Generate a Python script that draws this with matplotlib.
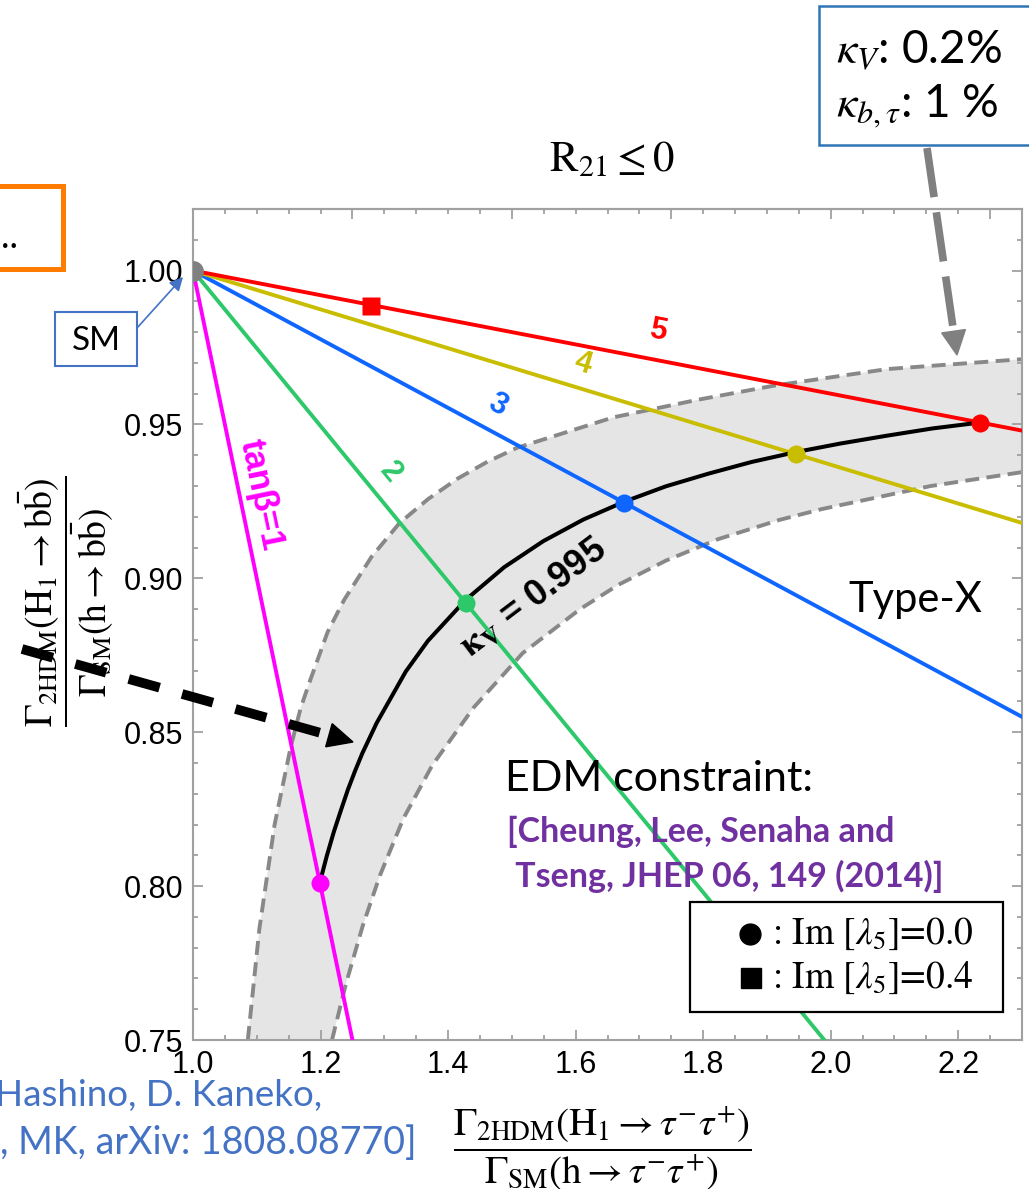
import numpy as np
import matplotlib
matplotlib.use("Agg")
import matplotlib.pyplot as plt
from matplotlib.patches import Rectangle, Polygon, FancyArrowPatch
from matplotlib.lines import Line2D
from matplotlib.ticker import MultipleLocator, FormatStrFormatter

plt.rcParams['font.family'] = ['Liberation Sans', 'DejaVu Sans']
plt.rcParams['mathtext.fontset'] = 'stix'

# fixed tan(beta) lines, all leaving the SM point (1, 1)
tanb_labels = ['tan\u03b2=1', '2', '3', '4', '5']
label_sizes = [25, 22, 22, 22, 22]
line_colors = ['#ff00ff', '#2dc86a', '#0f66ff', '#c9bd00', '#ff0000']
line_end_x = [1.25, 1.99, 2.30, 2.30, 2.30]
line_end_y = [0.75, 0.75, 0.855, 0.918, 0.948]
label_x = [1.107, 1.309, 1.477, 1.612, 1.729]
label_y = [0.9270, 0.9344, 0.9562, 0.9698, 0.9805]

# crossings with kappa_V = 0.995 (Im[lambda5] = 0)
dot_x = [1.1988, 1.4276, 1.6763, 1.9449, 2.2335]
dot_y = [0.8011, 0.8920, 0.9246, 0.9404, 0.9506]
# Im[lambda5] = 0.4 point on tan(beta) = 5
sq_x = [1.279]
sq_y = [0.9886]

# kappa_V = 0.995 curve
kv_x = [1.1988, 1.2098, 1.2208, 1.2319, 1.2430, 1.2541, 1.2654, 1.2880, 1.3126,
        1.3336, 1.3684, 1.4276, 1.4879, 1.5494, 1.6121, 1.6763, 1.7416, 1.8081,
        1.8758, 1.9449, 2.0153, 2.0868, 2.1596, 2.2335]
kv_y = [0.8011, 0.8098, 0.8176, 0.8246, 0.8314, 0.8374, 0.8431, 0.8530, 0.8620,
        0.8697, 0.8797, 0.8930, 0.9036, 0.9121, 0.9191, 0.9249, 0.9299, 0.9340,
        0.9378, 0.9410, 0.9438, 0.9463, 0.9487, 0.9506]

# EDM-allowed band (upper-left and lower-right edges)
up_x = [1.086, 1.104, 1.128, 1.153, 1.169, 1.184, 1.211, 1.237, 1.280, 1.324,
        1.369, 1.415, 1.461, 1.508, 1.659, 1.791, 1.911, 2.089, 2.300]
up_y = [0.750, 0.786, 0.820, 0.845, 0.858, 0.867, 0.8825, 0.893, 0.907, 0.918,
        0.9258, 0.9324, 0.9378, 0.9424, 0.9523, 0.958, 0.9626, 0.968, 0.9712]
lo_x = [1.218, 1.240, 1.266, 1.293, 1.330, 1.375, 1.440, 1.517, 1.607, 1.667,
        1.742, 1.823, 1.920, 1.986, 2.157, 2.300]
lo_y = [0.750, 0.7684, 0.787, 0.8034, 0.822, 0.8392, 0.858, 0.8757, 0.890,
        0.8979, 0.9058, 0.9127, 0.919, 0.9225, 0.930, 0.9345]

W, H = 1029, 1189
fig = plt.figure(figsize=(W / 100, H / 100), dpi=100)


def fx(px):
    return px / W


def fy(py):
    return 1 - py / H


ax = fig.add_axes([fx(193), fy(1040), (1022 - 193) / W, (1040 - 209) / H])
ax.set_xlim(1.0, 2.3)
ax.set_ylim(0.75, 1.02)

# band
ax.fill(np.concatenate([up_x, lo_x[::-1]]), np.concatenate([up_y, lo_y[::-1]]),
        color='#e5e5e5', lw=0, zorder=1)
ax.plot(up_x, up_y, color='#888888', lw=2.8, ls=(0, (3.6, 1.9)), zorder=2)
ax.plot(lo_x, lo_y, color='#888888', lw=2.8, ls=(0, (3.6, 1.9)), zorder=2)

# tan(beta) lines and their labels
for i in range(len(tanb_labels)):
    ax.plot([1.0, line_end_x[i]], [1.0, line_end_y[i]], color=line_colors[i],
            lw=2.8, zorder=3)
    p0 = ax.transData.transform((1.0, 1.0))
    p1 = ax.transData.transform((line_end_x[i], line_end_y[i]))
    ang = np.degrees(np.arctan2(p1[1] - p0[1], p1[0] - p0[0]))
    ax.text(label_x[i], label_y[i], tanb_labels[i], color=line_colors[i],
            fontsize=label_sizes[i], fontweight='bold', rotation=ang,
            ha='center', va='center', rotation_mode='anchor', zorder=6)

ax.plot(kv_x, kv_y, color='black', lw=2.9, zorder=4)
ax.text(1.532, 0.8938, r'$\mathbf{\kappa_V}$ = 0.995', fontsize=26,
        fontweight='bold', rotation=37, ha='center', va='center',
        rotation_mode='anchor', zorder=6)

for i in range(len(dot_x)):
    ax.plot(dot_x[i], dot_y[i], 'o', color=line_colors[i], ms=13, mec='none',
            zorder=5)
ax.plot(sq_x, sq_y, 's', color='#ff0000', ms=13, mec='none', zorder=5)
ax.plot([1.0], [1.0], 'o', color='#808080', ms=15, mec='none', zorder=5)

# frame
for s in ax.spines.values():
    s.set_color('#a0a0a0')
    s.set_linewidth(1.5)
ax.xaxis.set_major_locator(MultipleLocator(0.2))
ax.xaxis.set_minor_locator(MultipleLocator(0.05))
ax.yaxis.set_major_locator(MultipleLocator(0.05))
ax.yaxis.set_minor_locator(MultipleLocator(0.01))
ax.xaxis.set_major_formatter(FormatStrFormatter('%.1f'))
ax.yaxis.set_major_formatter(FormatStrFormatter('%.2f'))
ax.tick_params(which='both', direction='in', color='#a0a0a0', width=1.3,
               top=False, right=True, labelsize=22, pad=7)
ax.tick_params(which='major', length=7)
ax.tick_params(which='minor', length=3.6)
top = ax.secondary_xaxis('top')
top.xaxis.set_major_locator(MultipleLocator(0.25))
top.xaxis.set_minor_locator(MultipleLocator(0.05))
top.tick_params(which='both', direction='in', color='#a0a0a0', width=1.3,
                labeltop=False)
top.tick_params(which='major', length=7)
top.tick_params(which='minor', length=3.6)
top.spines['top'].set_color('#a0a0a0')
top.spines['top'].set_linewidth(1.5)

# axis titles
fig.text(fx(66), fy(601),
         r'$\dfrac{\Gamma_{\mathrm{2HDM}}(\mathrm{H}_1 \rightarrow \mathrm{b}\bar{\mathrm{b}})}'
         r'{\Gamma_{\mathrm{SM}}(\mathrm{h} \rightarrow \mathrm{b}\bar{\mathrm{b}})}$',
         fontsize=27, rotation=90, ha='center', va='center')
fig.text(fx(602), fy(1148),
         r'$\dfrac{\Gamma_{\mathrm{2HDM}}(\mathrm{H}_1 \rightarrow \tau^{-}\tau^{+})}'
         r'{\Gamma_{\mathrm{SM}}(\mathrm{h} \rightarrow \tau^{-}\tau^{+})}$',
         fontsize=28, ha='center', va='center')
fig.text(fx(612), fy(160), r'$\mathrm{R}_{21} \leq 0$', fontsize=31,
         ha='center', va='center')

# annotations
fig.text(fx(915), fy(600), 'Type-X', family='Lato', fontsize=30,
         ha='center', va='center')
fig.text(fx(505), fy(779), 'EDM constraint:', family='Lato', fontsize=31,
         ha='left', va='center')
fig.text(fx(507), fy(832), '[Cheung, Lee, Senaha and', family='Lato',
         fontweight='bold', fontsize=24.5, color='#7030a0', ha='left',
         va='center')
fig.text(fx(507), fy(876), ' Tseng, JHEP 06, 149 (2014)]', family='Lato',
         fontweight='bold', fontsize=24.5, color='#7030a0', ha='left',
         va='center')

# marker key
fig.add_artist(Rectangle((fx(690), fy(1012)), (1003 - 690) / W, (1012 - 902) / H,
                         transform=fig.transFigure, facecolor='white',
                         edgecolor='black', lw=1.6, zorder=10))
fig.add_artist(Line2D([fx(750)], [fy(934)], marker='o', ms=15, color='black',
                      transform=fig.transFigure, zorder=11))
fig.add_artist(Line2D([fx(751)], [fy(978)], marker='s', ms=14, color='black',
                      transform=fig.transFigure, zorder=11))
fig.text(fx(772), fy(934), r': Im $[\lambda_5]$=0.0', family='STIXGeneral',
         fontsize=27, ha='left', va='center', zorder=12)
fig.text(fx(772), fy(978), r': Im $[\lambda_5]$=0.4', family='STIXGeneral',
         fontsize=27, ha='left', va='center', zorder=12)

# SM call-out
fig.add_artist(Rectangle((fx(55), fy(366)), (137 - 55) / W, (366 - 312) / H,
                         transform=fig.transFigure, facecolor='white',
                         edgecolor='#4472c4', lw=1.5, zorder=10))
fig.text(fx(96), fy(341), 'SM', family='Lato', fontsize=24, ha='center',
         va='center', zorder=11)
fig.add_artist(FancyArrowPatch((fx(137), fy(328)), (fx(183), fy(277)),
                               transform=fig.transFigure, arrowstyle='-|>',
                               mutation_scale=20, lw=1.2, color='#4472c4',
                               shrinkA=0, shrinkB=0, zorder=11))

# precision box
fig.add_artist(Rectangle((fx(819), fy(145)), (1060 - 819) / W, (145 - 6) / H,
                         transform=fig.transFigure, facecolor='white',
                         edgecolor='#2e75b6', lw=1.8, zorder=10))
fig.text(fx(836), fy(50), r'$\kappa_V$: 0.2%', family='Lato', fontsize=33,
         ha='left', va='center', zorder=11)
fig.text(fx(836), fy(106), r'$\kappa_{b,\tau}$: 1 %', family='Lato',
         fontsize=33, ha='left', va='center', zorder=11)

# orange box on the left
fig.add_artist(Rectangle((fx(-40), fy(269)), (63 + 40) / W, (269 - 186) / H,
                         transform=fig.transFigure, facecolor='white',
                         edgecolor='#ff7c00', lw=3.6, zorder=10))
fig.text(fx(1), fy(238), '..', family='Lato', fontsize=26, ha='left',
         va='center', zorder=11)

# reference in blue
fig.text(fx(322), fy(1106), 'Hashino, D. Kaneko,', family='Lato', fontsize=26.5,
         color='#4472c4', ha='right', va='baseline')
fig.text(fx(417), fy(1154), ', MK, arXiv: 1808.08770]', family='Lato',
         fontsize=27, color='#4472c4', ha='right', va='baseline')


def dashed_arrow(x0, y0, x1, y1, color, lw, dash, head_len, head_w):
    d = np.hypot(x1 - x0, y1 - y0)
    ux, uy = (x1 - x0) / d, (y1 - y0) / d
    bx, by = x1 - ux * head_len, y1 - uy * head_len
    fig.add_artist(Line2D([fx(x0), fx(bx)], [fy(y0), fy(by)],
                          transform=fig.transFigure, color=color, lw=lw,
                          ls=(0, dash), dash_capstyle='butt', zorder=9))
    nx, ny = -uy, ux
    tri = [(x1, y1), (bx + nx * head_w / 2, by + ny * head_w / 2),
           (bx - nx * head_w / 2, by - ny * head_w / 2)]
    fig.add_artist(Polygon([(fx(a), fy(b)) for a, b in tri], closed=True,
                           transform=fig.transFigure, color=color, zorder=9))


dashed_arrow(22, 649, 353, 742, 'black', 7, (3.3, 2.4), 25, 24)
dashed_arrow(927, 148, 957, 355, '#808080', 5.5, (6.5, 2.0), 24, 24)

fig.savefig('out.png', dpi=100)
